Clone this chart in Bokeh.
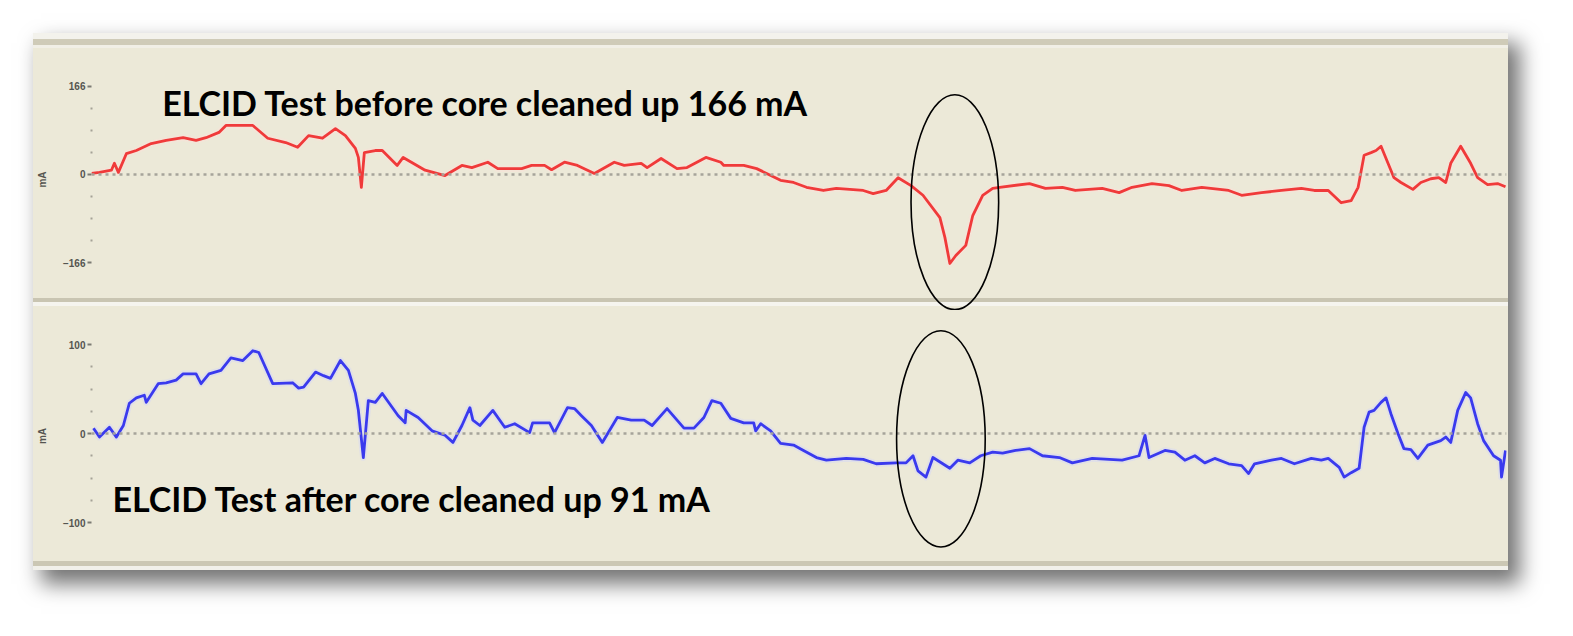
from bokeh.plotting import figure
from bokeh.layouts import column
from bokeh.models import Range1d, FixedTicker, Span, Label, Div
from bokeh.embed import file_html
from bokeh.resources import INLINE

# ---- data (position along core, mA) ----
red_x = [0, 8, 20, 23, 27, 35, 45, 60, 75, 92, 105, 115, 128, 135, 162, 177, 195, 207, 218, 232,
         245, 255, 265, 268, 271, 274, 285, 292, 307, 313, 335, 355, 372, 382, 398, 408, 432, 442, 455, 462,
         475, 488, 505, 525, 535, 552, 558, 572, 588, 598, 617, 632, 635, 655, 668, 678, 692, 705, 718, 735,
         748, 775, 785, 798, 810, 823, 835, 852, 857, 862, 868, 878, 885, 895, 905, 912, 942, 958, 975, 988,
         1015, 1032, 1045, 1065, 1082, 1095, 1115, 1142, 1155, 1175, 1195, 1215, 1228, 1242, 1255, 1265, 1272,
         1278, 1285, 1290, 1295, 1308, 1315, 1327, 1335, 1345, 1353, 1360, 1365, 1375, 1385, 1392, 1402, 1412, 1420]
red_mA = [2, 4, 8, 21, 4, 39, 45, 58, 64, 69, 64, 69, 79, 92, 92, 68, 60, 51, 73, 68,
          86, 73, 49, 32, -24, 41, 45, 45, 17, 32, 8, -2, 17, 13, 23, 11, 11, 17, 17, 9,
          23, 17, 2, 23, 17, 21, 13, 30, 11, 13, 32, 23, 17, 17, 11, 2, -11, -15, -24, -30,
          -26, -30, -36, -30, -6, -21, -39, -81, -118, -167, -152, -133, -77, -39, -26, -24, -17, -26, -24, -30,
          -26, -34, -24, -17, -21, -30, -24, -30, -39, -34, -30, -26, -30, -30, -53, -49, -24,
          36, 41, 45, 53, -6, -15, -28, -15, -8, -6, -15, 21, 53, 21, -6, -19, -17, -23]

blue_x = [2, 8, 18, 25, 32, 38, 45, 53, 55, 67, 75, 85, 92, 105, 110, 118, 130, 140, 152, 162,
          168, 182, 202, 208, 213, 225, 233, 240, 250, 258, 265, 268, 273, 278, 285, 292, 308, 315, 316, 328,
          342, 355, 363, 372, 380, 383, 390, 403, 415, 425, 440, 443, 460, 465, 478, 485, 492, 502, 513, 528,
          542, 555, 563, 578, 595, 605, 615, 623, 632, 642, 655, 665, 667, 672, 682, 692, 705, 715, 728, 738,
          758, 775, 788, 808, 818, 825, 830, 838, 845, 862, 870, 882, 893, 905, 915, 928, 942, 955, 972, 985,
          1005, 1035, 1052, 1058, 1062, 1078, 1088, 1098, 1108, 1118, 1128, 1142, 1155, 1162, 1168, 1185, 1195,
          1208, 1225, 1235, 1242, 1253, 1258, 1265, 1273, 1278, 1283, 1288, 1295, 1300, 1305, 1312, 1318, 1325,
          1332, 1342, 1355, 1360, 1365, 1372, 1380, 1385, 1392, 1398, 1408, 1415, 1416, 1420]
blue_mA = [6, -4, 7, -4, 9, 34, 40, 43, 35, 56, 57, 60, 67, 67, 56, 67, 71, 85, 82, 93,
           91, 56, 57, 51, 52, 69, 65, 62, 82, 71, 45, 26, -27, 37, 35, 45, 20, 12, 26, 18,
           3, -2, -10, 9, 29, 15, 9, 26, 7, 11, 1, 12, 12, 1, 29, 28, 20, 9, -10, 18,
           15, 15, 9, 28, 6, 6, 18, 37, 34, 17, 12, 12, 3, 11, 3, -11, -13, -19, -27, -30,
           -28, -29, -34, -33, -33, -25, -42, -49, -27, -39, -30, -33, -25, -21, -22, -19, -17, -25, -27, -33,
           -28, -30, -25, -2, -27, -19, -21, -30, -25, -33, -28, -34, -36, -45, -34, -30, -28,
           -34, -28, -30, -28, -38, -49, -44, -39, 7, 24, 26, 35, 40, 22, 0, -17, -18, -28,
           -13, -8, -4, -10, 26, 46, 40, 11, -8, -25, -30, -49, -19]

top_ticks = [-166, 0, 166]
top_minor = [-124.5, -83, -41.5, 41.5, 83, 124.5]
bot_ticks = [-100, 0, 100]
bot_minor = [-75, -50, -25, 25, 50, 75]

top_title = "ELCID Test before core cleaned up 166 mA"
bot_title = "ELCID Test after core cleaned up 91 mA"
axis_label = "mA"

# highlighted regions (centre x, centre mA, width, height in mA)
top_ellipse = [867, -52, 88, 403]
bot_ellipse = [853, -6, 89, 243]

BG = "#ECE9D8"
W = 1475


def panel(xs, ys, color, halo, yrange, ticks, minor, title, tx, ty, ell, height, css_bg):
    p = figure(width=W, height=height, output_backend="svg", toolbar_location=None,
               x_range=Range1d(0, 1421), y_range=Range1d(*yrange),
               x_axis_type=None, min_border_left=52, min_border_right=2,
               min_border_top=0, min_border_bottom=0,
               styles={"background": css_bg})
    p.background_fill_alpha = 0
    p.border_fill_alpha = 0
    p.outline_line_color = None
    p.xgrid.visible = False
    p.ygrid.visible = False
    ax = p.yaxis[0]
    ax.ticker = FixedTicker(ticks=ticks, minor_ticks=minor)
    ax.axis_line_color = None
    ax.major_tick_out = 4
    ax.major_tick_in = 0
    ax.major_tick_line_color = "#7a7a72"
    ax.major_tick_line_width = 2
    ax.minor_tick_in = 1
    ax.minor_tick_out = 1
    ax.minor_tick_line_color = "#a4a296"
    ax.minor_tick_line_width = 2
    ax.major_label_text_font_size = "10px"
    ax.major_label_text_color = "#555550"
    ax.major_label_text_font_style = "bold"
    ax.major_label_standoff = 2
    ax.axis_label = axis_label
    ax.axis_label_text_font_size = "10px"
    ax.axis_label_text_color = "#555550"
    ax.axis_label_text_font_style = "bold"
    ax.axis_label_standoff = 12
    p.add_layout(Span(location=0, dimension="width", line_color="#a6a49a",
                      line_dash="3 4", line_width=2.5))
    p.line(xs, ys, line_color=halo, line_width=6.5, line_alpha=0.7, line_join="round")
    p.line(xs, ys, line_color=color, line_width=2.8, line_join="round")
    p.ellipse(x=[ell[0]], y=[ell[1]], width=[ell[2]], height=[ell[3]],
              fill_color=None, line_color="black", line_width=1.6, level="overlay")
    p.add_layout(Label(x=tx, y=ty, text=title, text_font="Lato", text_font_style="bold",
                       text_font_size="34px", text_color="black", text_baseline="alphabetic"))
    return p


top_bg = ("linear-gradient(to bottom, #ECE9D8 0px, #ECE9D8 250px, #c9c5b2 250px, #c9c5b2 254px, "
          "#f5f4ee 254px, #f5f4ee 258px, #ECE9D8 258px, #ECE9D8 262px)")
top = panel(red_x, red_mA, "#f03a3a", "#f7e3d8", (-255.2, 236.4), top_ticks, top_minor,
            top_title, 71, 135, top_ellipse, 262, top_bg)
bot = panel(blue_x, blue_mA, "#3a3aee", "#dcdcee", (-143.8, 138.2), bot_ticks, bot_minor,
            bot_title, 21, -73, bot_ellipse, 251, BG)

header = Div(text="", width=W, height=15, margin=0, styles={
    "background": "linear-gradient(to bottom, #f3f2ec 0px, #f3f2ec 6px, #cfcbb8 6px, #cfcbb8 12px, #f1efe6 12px, #f1efe6 15px)"})
footer = Div(text="", width=W, height=9, margin=0, styles={
    "background": "linear-gradient(to bottom, #cbc7b4 0px, #cbc7b4 5px, #f1f0ea 5px, #f1f0ea 9px)"})

layout = column(header, top, bot, footer, spacing=0, margin=(33, 0, 0, 33),
                styles={"box-shadow": "10px 12px 20px 2px rgba(0,0,0,0.55)"})

open("out.html", "w").write(file_html(layout, INLINE))
